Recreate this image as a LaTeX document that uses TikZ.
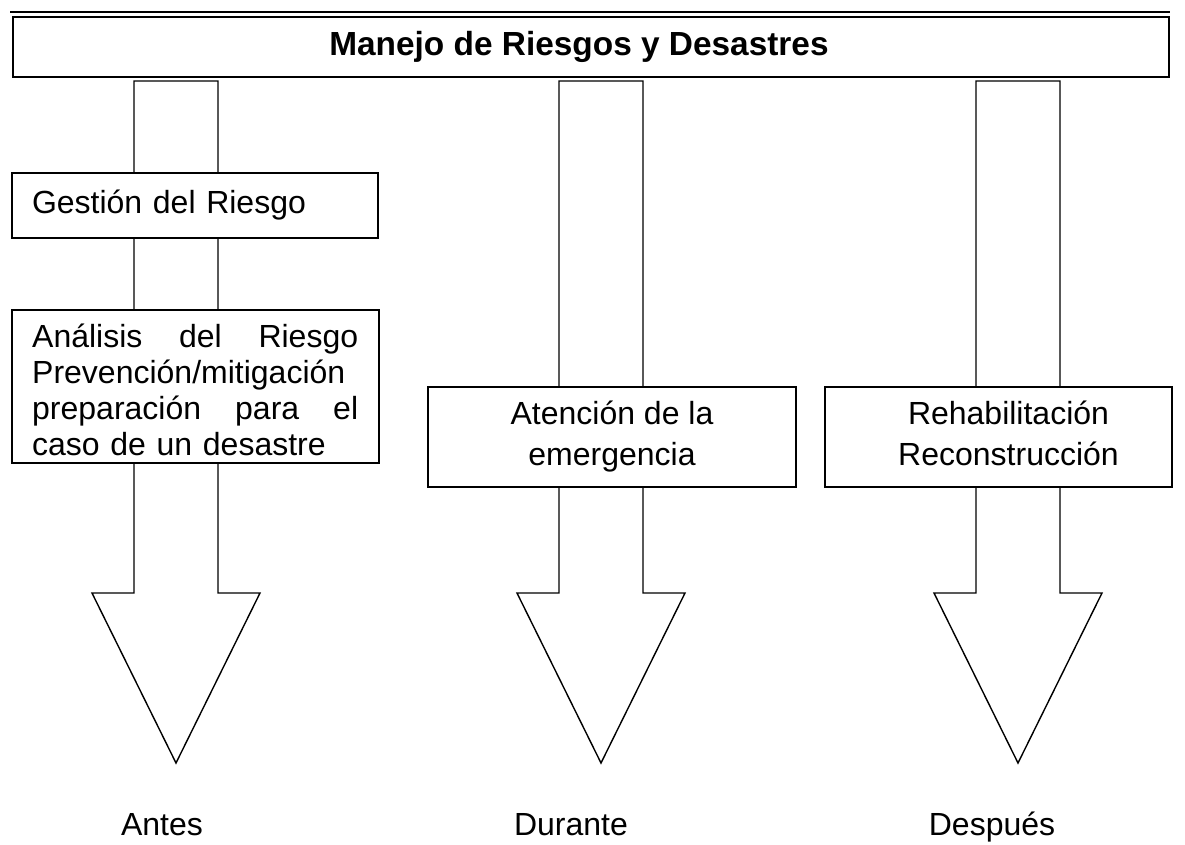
\documentclass[tikz,border=0pt]{standalone}
\usepackage{fontspec}
\setmainfont{Liberation Sans}
\usetikzlibrary{positioning}
\tikzset{
  caja/.style={draw, fill=white, line width=1.4pt, inner sep=0pt, font=\fontsize{32}{38}\selectfont},
  flecha/.style={draw, fill=white, line width=1.4pt, line join=miter},
  etapa/.style={anchor=base, inner sep=0pt, font=\fontsize{32}{38}\selectfont}
}

\begin{document}
\begin{tikzpicture}[x=1pt, y=-1pt]
  \useasboundingbox (0,0) rectangle (1185,844);
  \foreach \cx in {176,601,1018}
    \draw[flecha] ({\cx-42},81) -- ({\cx+42},81) -- ({\cx+42},593) -- ({\cx+84},593)
      -- (\cx,763) -- ({\cx-84},593) -- ({\cx-42},593) -- cycle;
  \draw[line width=1.6pt] (10,12) -- (1170,12);
  \node[caja, minimum width=1156pt, minimum height=60pt, font=\fontsize{33.4}{40}\selectfont\bfseries] (titulo) at (591,47) {\hspace*{-24pt}Manejo de Riesgos y Desastres};
  \node[caja, text width=326pt, inner xsep=20pt, minimum height=65pt, align=left] (gestion) at (195,205.5) {Gestión del Riesgo};
  \node[caja, minimum width=367pt, minimum height=153pt] (analisis) at (195.5,386.5) {};
  \node[anchor=north west, inner sep=0pt, text width=326pt, align=left, font=\fontsize{32}{36}\selectfont] (analisisTexto) at (32,324)
    {Análisis\hfill del\hfill Riesgo\\ Prevención/mitigación\\ preparación\hfill para\hfill el\\ caso de un desastre};
  \node[caja, minimum width=368pt, minimum height=100pt, align=center, font=\fontsize{32}{41}\selectfont] (atencion) at (612,437) {Atención de la\\ emergencia};
  \node[caja, minimum width=347pt, minimum height=100pt, font=\fontsize{32}{41}\selectfont] (rehab) at (998.5,437)
    {\hspace*{20pt}\begin{tabular}{@{}c@{}}Rehabilitación\\ Reconstrucción\end{tabular}};
  \node[etapa] (antes) at (162,835) {Antes};
  \node[etapa] (durante) at (571,835) {Durante};
  \node[etapa] (despues) at (992,835) {Después};
\end{tikzpicture}
\end{document}
